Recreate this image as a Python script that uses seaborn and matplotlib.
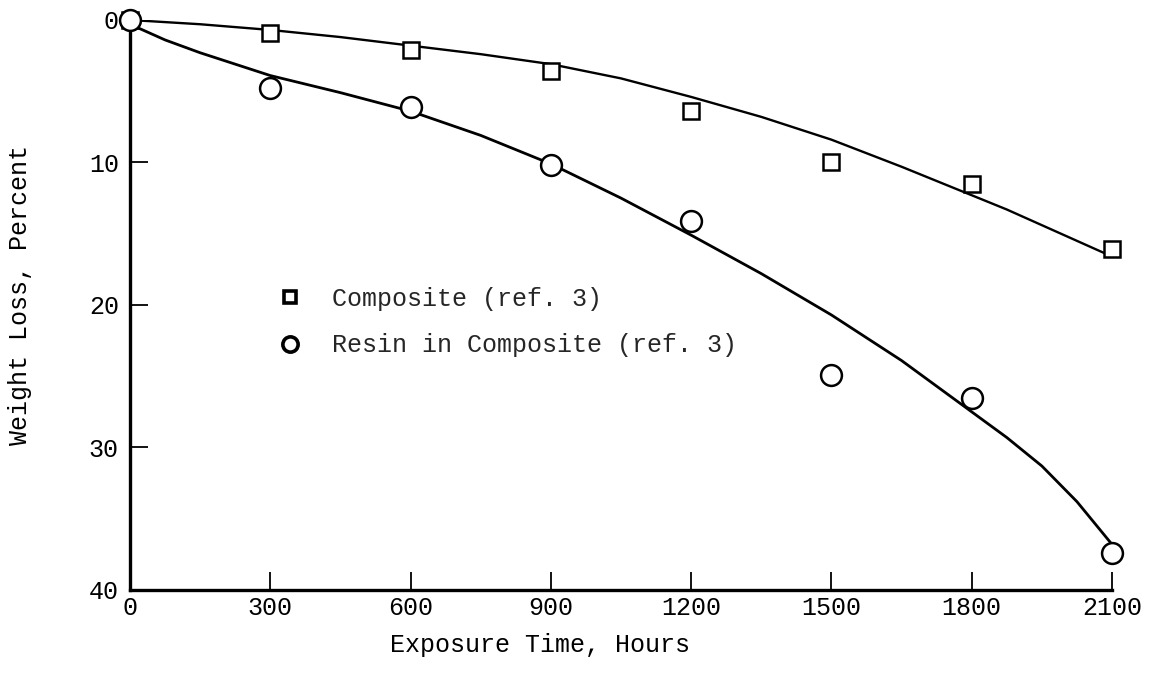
import matplotlib
matplotlib.use("Agg")
import matplotlib.pyplot as plt
from matplotlib.lines import Line2D
import seaborn as sns
import pandas as pd

# Measured points (exposure time in hours, weight loss in percent)
hours = [0, 300, 600, 900, 1200, 1500, 1800, 2100]
composite = [0.0, 0.9, 2.1, 3.6, 6.4, 10.0, 11.5, 16.1]
resin = [0.0, 4.8, 6.1, 10.2, 14.1, 24.9, 26.5, 37.4]

# Faired curves
curve_hours = [0, 75, 150, 300, 450, 600, 750, 900, 1050, 1200, 1350, 1500, 1650,
               1725, 1800, 1875, 1950, 2025, 2100]
composite_curve = [0.0, 0.15, 0.3, 0.7, 1.2, 1.8, 2.4, 3.1, 4.1, 5.4, 6.8, 8.4, 10.3,
                   11.3, 12.3, 13.3, 14.4, 15.5, 16.6]
resin_curve = [0.3, 1.4, 2.3, 3.9, 5.1, 6.4, 8.1, 10.1, 12.5, 15.1, 17.8, 20.7, 23.9,
               25.7, 27.5, 29.3, 31.3, 33.8, 36.8]

x_ticks = [0, 300, 600, 900, 1200, 1500, 1800, 2100]
y_ticks = [0, 10, 20, 30, 40]

labels = ["Composite (ref. 3)", "Resin in Composite (ref. 3)"]

sns.set_theme(style="ticks")
plt.rcParams["font.family"] = ["Liberation Mono", "DejaVu Sans Mono"]

points = pd.DataFrame({"hours": hours, "composite": composite, "resin": resin})
curves = pd.DataFrame({"hours": curve_hours, "composite": composite_curve, "resin": resin_curve})

fig = plt.figure(figsize=(11.49, 6.79), dpi=100)
ax = fig.add_axes([0.1131, 0.1311, 0.8547, 0.8395])

# curves
sns.lineplot(data=curves, x="hours", y="composite", ax=ax, color="black", linewidth=1.7, zorder=2)
sns.lineplot(data=curves, x="hours", y="resin", ax=ax, color="black", linewidth=2.0, zorder=2)

# data points
ax.plot(points["hours"], points["composite"], linestyle="none", marker="s", markersize=12,
        markerfacecolor="white", markeredgecolor="black", markeredgewidth=1.8, zorder=3, clip_on=False)
ax.plot(points["hours"], points["resin"], linestyle="none", marker="o", markersize=15,
        markerfacecolor="white", markeredgecolor="black", markeredgewidth=1.8, zorder=3, clip_on=False)

ax.set_xlim(0, 2100)
ax.set_ylim(40, 0)
ax.set_xticks(x_ticks)
ax.set_yticks(y_ticks)
ax.set_xticklabels([str(v) for v in x_ticks], fontsize=18)
ax.set_yticklabels([str(v) for v in y_ticks], fontsize=18)

sns.despine(ax=ax)
for side in ["left", "bottom"]:
    ax.spines[side].set_linewidth(2.4)
    ax.spines[side].set_color("black")

ax.tick_params(axis="both", direction="in", length=13, width=1.3, colors="black")
ax.tick_params(axis="x", pad=4)
ax.tick_params(axis="y", pad=8)
# no tick marks at the axis ends
ax.yaxis.get_major_ticks()[0].tick1line.set_visible(False)
ax.yaxis.get_major_ticks()[-1].tick1line.set_visible(False)
ax.xaxis.get_major_ticks()[0].tick1line.set_visible(False)

ax.set_xlabel("Exposure Time, Hours", fontsize=18, color="black")
ax.set_ylabel("Weight Loss, Percent", fontsize=18, color="black")
ax.xaxis.set_label_coords(0.4175, -0.075)
ax.yaxis.set_label_coords(-0.100, 0.518)

handles = [
    Line2D([], [], linestyle="none", marker="s", markersize=9, markerfacecolor="white",
           markeredgecolor="black", markeredgewidth=2.6),
    Line2D([], [], linestyle="none", marker="o", markersize=11, markerfacecolor="white",
           markeredgecolor="black", markeredgewidth=2.6),
]
ax.legend(handles, labels, loc="center left", bbox_to_anchor=(0.150, 0.47), frameon=False,
          fontsize=18, handlelength=1.0, handletextpad=1.2, labelspacing=0.9,
          borderpad=0, borderaxespad=0)

fig.patch.set_facecolor("white")
ax.set_facecolor("white")
fig.savefig("out.png", dpi=100, facecolor="white")
